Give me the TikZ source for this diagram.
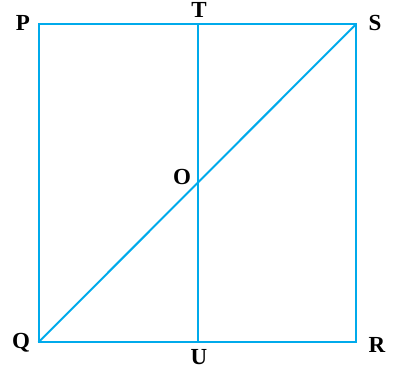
\documentclass[tikz,border=0pt]{standalone}
\usepackage{fontspec}
\setmainfont{Liberation Serif}
\definecolor{linecol}{RGB}{0,170,235}
\begin{document}
\begin{tikzpicture}[x=1pt,y=1pt,
  edge/.style={draw=linecol,line width=2pt},
  lbl/.style={inner sep=0pt,font=\fontsize{23}{23}\selectfont\bfseries,text height=15.2pt,text depth=0pt,anchor=center}]
\useasboundingbox (0,0) rectangle (394,374);
\coordinate (P) at (38.5,349.5);
\coordinate (S) at (355.7,349.5);
\coordinate (R) at (355.7,31.7);
\coordinate (Q) at (38.5,31.7);
\coordinate (T) at (198,349.5);
\coordinate (U) at (198,31.7);
\coordinate (O) at (198,190.6);
\draw[edge] (P) -- (S) -- (R) -- (Q) -- cycle;
\draw[edge] (T) -- (U);
\draw[edge] (Q) -- (S);
\node[lbl] (lP) at (23,351) {P};
\node[lbl] (lT) at (199,364) {T};
\node[lbl] (lS) at (375,351) {S};
\node[lbl] (lO) at (182,197.5) {O};
\node[lbl] (lQ) at (21,33) {Q};
\node[lbl] (lU) at (199,17) {U};
\node[lbl] (lR) at (377,29.5) {R};
\end{tikzpicture}
\end{document}
